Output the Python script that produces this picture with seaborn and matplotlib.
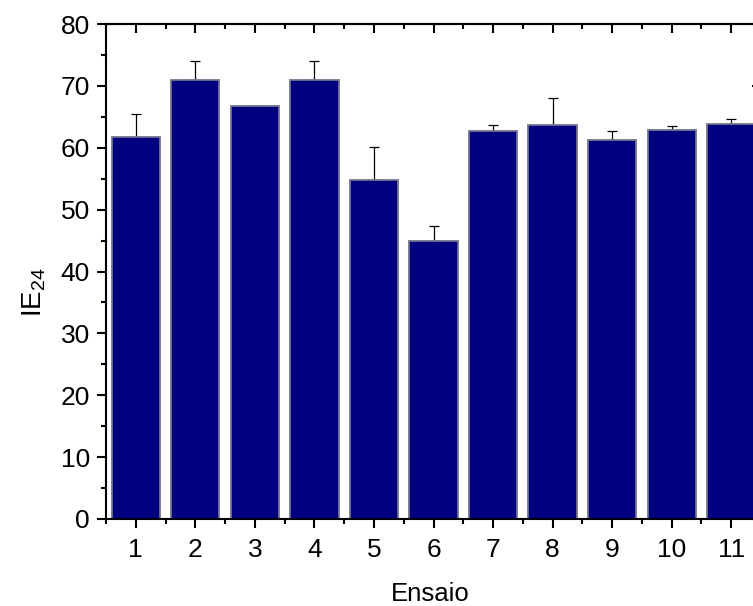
import numpy as np
import pandas as pd
import matplotlib
matplotlib.use("Agg")
import matplotlib.pyplot as plt
from matplotlib.ticker import MultipleLocator, NullFormatter
import seaborn as sns

# Emulsification index per run (mean and upper deviation)
ensaio = ["1", "2", "3", "4", "5", "6", "7", "8", "9", "10", "11"]
ie24 = [61.8, 70.9, 66.7, 70.9, 54.8, 44.9, 62.7, 63.7, 61.3, 62.9, 63.9]
ie24_err = [3.6, 3.2, 0.0, 3.2, 5.4, 2.4, 1.0, 4.4, 1.4, 0.6, 0.8]

df = pd.DataFrame({"Ensaio": ensaio, "IE24": ie24, "err": ie24_err})

sns.set_style("ticks")
plt.rcParams["font.family"] = ["Liberation Sans", "DejaVu Sans"]
plt.rcParams["mathtext.default"] = "regular"
plt.rcParams["text.color"] = "black"
plt.rcParams["axes.labelcolor"] = "black"

W, H = 753, 606
fig = plt.figure(figsize=(W / 100, H / 100), dpi=100)
left, right, bottom, top = 106, 761, 519, 24
ax = fig.add_axes([left / W, 1 - bottom / H, (right - left) / W, (bottom - top) / H])

sns.barplot(data=df, x="Ensaio", y="IE24", order=ensaio, color="#000080",
            saturation=1, width=0.81, edgecolor="#74748c", linewidth=1.3,
            errorbar=None, ax=ax)
for p in ax.patches:
    p.set_zorder(3)

# upward-only deviation bars; the part inside each bar is hidden behind it
pos = np.arange(len(ensaio))
vals = df["IE24"].to_numpy()
errs = df["err"].to_numpy()
ax.errorbar(pos, vals, yerr=[np.zeros_like(errs), errs], fmt="none",
            ecolor="black", elinewidth=0.9, capsize=3.6, capthick=0.9, zorder=2)

ax.set_xlim(-0.5, 10.5)
ax.set_ylim(0, 80)
ax.yaxis.set_major_locator(MultipleLocator(10))
ax.yaxis.set_minor_locator(MultipleLocator(5))
ax.xaxis.set_minor_locator(MultipleLocator(1, offset=0.5))

for s in ax.spines.values():
    s.set_linewidth(1.5)
    s.set_color("black")
    s.set_visible(True)
    s.set_zorder(5)

maj = dict(length=6.5, width=1.5, color="black")
mnr = dict(length=3.6, width=1.5, color="black")
ax.tick_params(axis="both", which="major", labelsize=19, labelcolor="black", **maj)
ax.tick_params(axis="both", which="minor", **mnr)
ax.tick_params(axis="x", which="both", direction="out", top=False, pad=7)
ax.tick_params(axis="y", which="both", direction="out", right=False, pad=5)

# inward ticks on the top and right edges
secx = ax.secondary_xaxis("top")
secx.xaxis.set_major_locator(MultipleLocator(1))
secx.xaxis.set_minor_locator(MultipleLocator(1, offset=0.5))
secx.xaxis.set_major_formatter(NullFormatter())
secx.tick_params(which="major", direction="in", **maj)
secx.tick_params(which="minor", direction="in", **mnr)
secx.spines["top"].set_linewidth(1.5)

secy = ax.secondary_yaxis("right")
secy.yaxis.set_major_locator(MultipleLocator(10))
secy.yaxis.set_minor_locator(MultipleLocator(5))
secy.yaxis.set_major_formatter(NullFormatter())
secy.tick_params(which="major", direction="in", **maj)
secy.tick_params(which="minor", direction="in", **mnr)
secy.spines["right"].set_linewidth(1.5)

ax.set_xlabel("Ensaio", fontsize=18.5)
ax.set_ylabel("IE$_{24}$", fontsize=20)
ax.xaxis.set_label_coords(0.495, -0.127)
ax.yaxis.set_label_coords(-0.088, 0.4586)

fig.savefig("out.png", dpi=100)
